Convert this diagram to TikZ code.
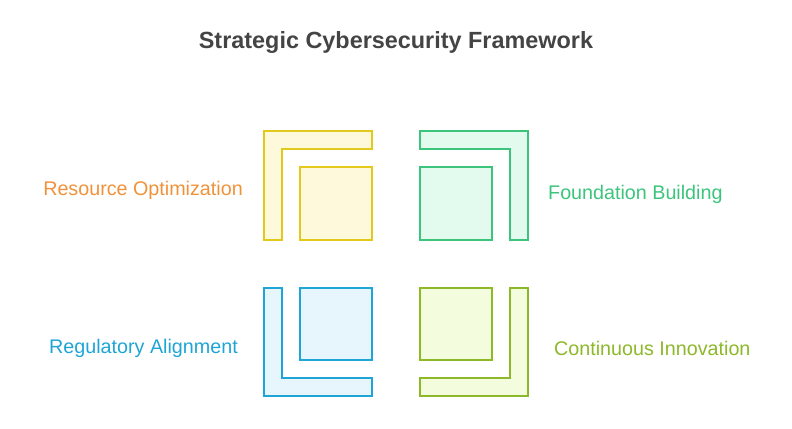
\documentclass[tikz,border=0pt]{standalone}
\usepackage{fontspec}
\setmainfont{Liberation Sans}
\definecolor{ylwline}{HTML}{E2C91C}\definecolor{ylwfill}{HTML}{FFF9DC}
\definecolor{grnline}{HTML}{3CC47C}\definecolor{grnfill}{HTML}{E3FBEF}
\definecolor{bluline}{HTML}{1EA5D6}\definecolor{blufill}{HTML}{E6F6FC}
\definecolor{olvline}{HTML}{8DB82A}\definecolor{olvfill}{HTML}{F3FCDD}
\definecolor{orgtext}{HTML}{F0923A}\definecolor{titletext}{HTML}{444444}
\tikzset{
  piece/.style={line width=1.5pt, line join=miter},
  label/.style={font=\fontsize{19.8}{23}\selectfont, inner sep=0pt}
}
\begin{document}
\begin{tikzpicture}[x=1bp,y=-1bp]
\useasboundingbox (0,0) rectangle (792,428);
\node[font=\bfseries\fontsize{23.5}{28}\selectfont, text=titletext] (title) at (396,42) {Strategic Cybersecurity Framework};
% top left
\draw[piece, draw=ylwline, fill=ylwfill] (264,131) -- (372,131) -- (372,149) -- (282,149) -- (282,240) -- (264,240) -- cycle;
\draw[piece, draw=ylwline, fill=ylwfill] (300,167) rectangle (372,240);
% top right
\draw[piece, draw=grnline, fill=grnfill] (420,131) -- (528,131) -- (528,240) -- (510,240) -- (510,149) -- (420,149) -- cycle;
\draw[piece, draw=grnline, fill=grnfill] (420,167) rectangle (492,240);
% bottom left
\draw[piece, draw=bluline, fill=blufill] (264,288) -- (282,288) -- (282,378) -- (372,378) -- (372,396) -- (264,396) -- cycle;
\draw[piece, draw=bluline, fill=blufill] (300,288) rectangle (372,360);
% bottom right
\draw[piece, draw=olvline, fill=olvfill] (510,288) -- (528,288) -- (528,396) -- (420,396) -- (420,378) -- (510,378) -- cycle;
\draw[piece, draw=olvline, fill=olvfill] (420,288) rectangle (492,360);
% labels
\node[label, text=orgtext, anchor=east] (resource) at (243,190) {Resource Optimization};
\node[label, text=grnline, anchor=west] (foundation) at (548,194) {Foundation Building};
\node[label, text=bluline, anchor=east] (regulatory) at (238,348) {Regulatory Alignment};
\node[label, text=olvline, anchor=west] (innovation) at (554,348) {Continuous Innovation};
\end{tikzpicture}
\end{document}
